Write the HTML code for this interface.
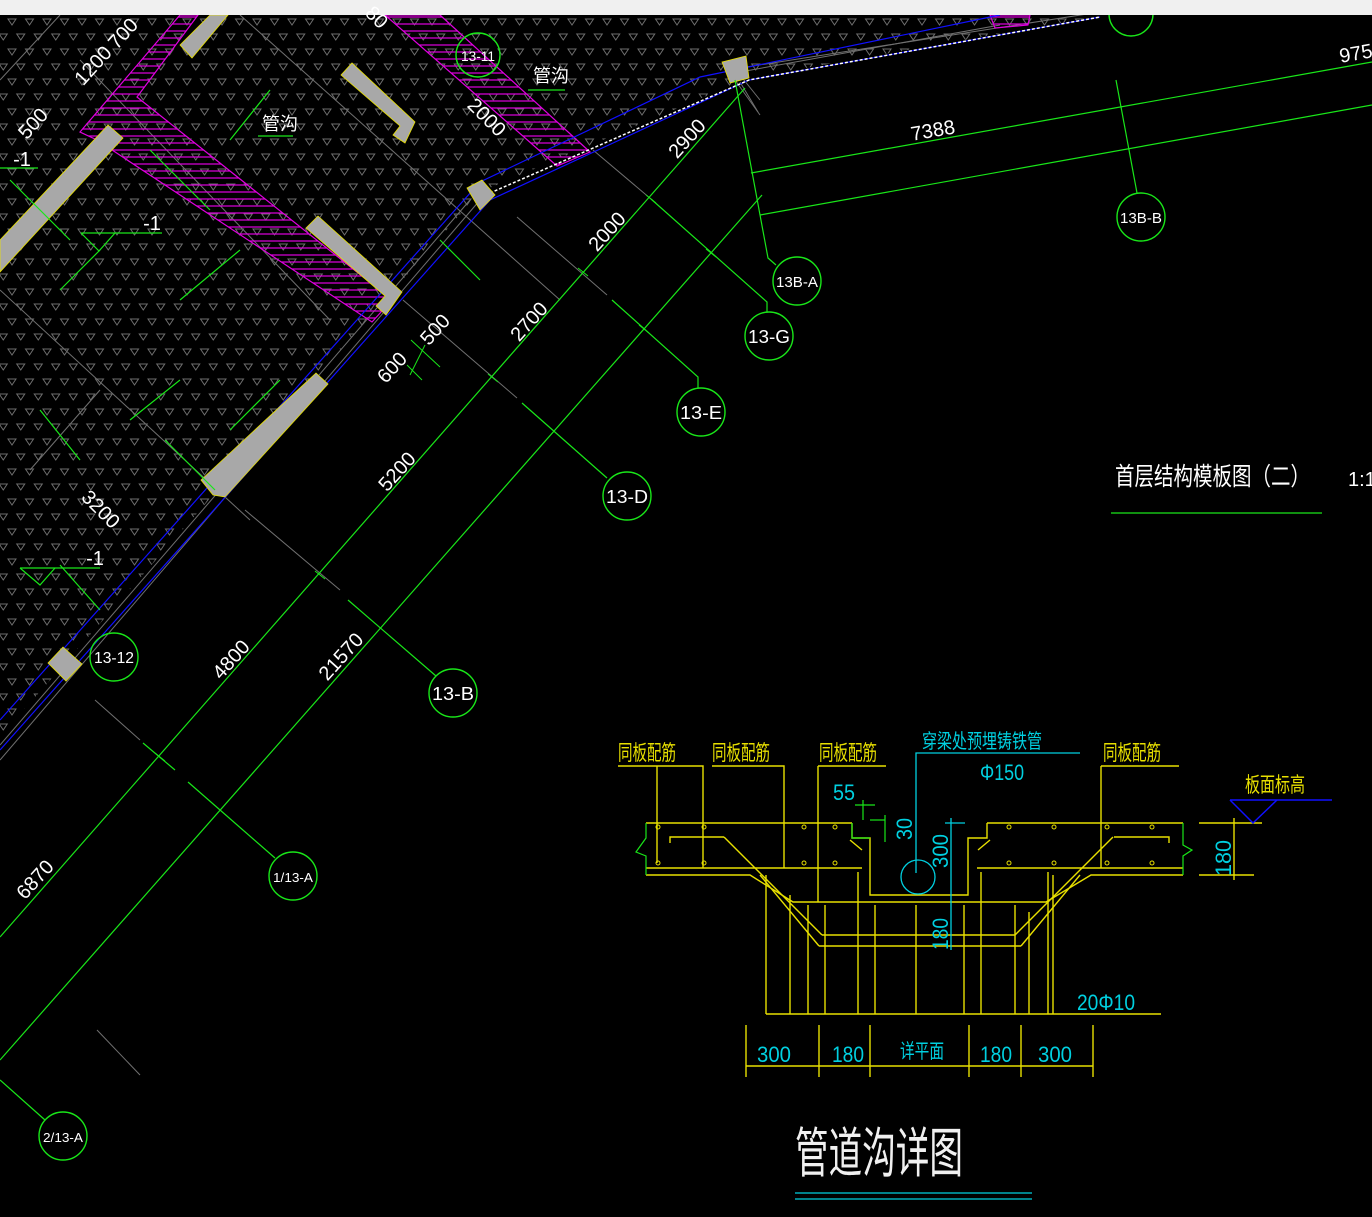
<!DOCTYPE html>
<html><head><meta charset="utf-8"><style>
html,body{margin:0;padding:0;background:#000;}
svg{display:block}
text{font-family:"Liberation Sans","Noto Sans CJK SC",sans-serif;}
</style></head><body>
<svg width="1372" height="1217" viewBox="0 0 1372 1217" xmlns="http://www.w3.org/2000/svg">
<defs>
<pattern id="tri" x="0" y="15" width="17.5" height="30" patternUnits="userSpaceOnUse">
<path d="M8,4 L16,4 L12,10 Z M-0.75,19 L7.25,19 L3.25,25 Z M16.75,19 L24.75,19 L20.75,25 Z" fill="none" stroke="#6e6e6e" stroke-width="1"/>
</pattern>
<pattern id="hat" width="10" height="7" patternUnits="userSpaceOnUse">
<line x1="0" y1="3" x2="10" y2="3" stroke="#e000e0" stroke-width="1.2"/>
</pattern>
</defs>
<rect width="1372" height="1217" fill="#000"/>
<polygon points="0,15 1105,15 749,78 480,192 0,737" fill="url(#tri)"/>
<g stroke="#707070" stroke-width="1" fill="none">
<line x1="0" y1="760" x2="480" y2="200"/>
<line x1="0" y1="745" x2="470" y2="200"/>
<line x1="60" y1="15" x2="0" y2="80"/>
<line x1="740" y1="68" x2="1100" y2="12"/>
<line x1="740" y1="72" x2="1000" y2="25"/>
<line x1="80" y1="60" x2="330" y2="320"/>
<line x1="240" y1="15" x2="560" y2="300"/>
<line x1="0" y1="290" x2="250" y2="520"/>
<line x1="100" y1="390" x2="30" y2="470"/>
<line x1="593" y1="150" x2="651" y2="199"/>
<line x1="517" y1="217" x2="607" y2="295"/>
<line x1="403" y1="300" x2="517" y2="398"/>
<line x1="245" y1="510" x2="340" y2="590"/>
<line x1="97" y1="1030" x2="140" y2="1075"/>
<line x1="95" y1="700" x2="140" y2="740"/>
<line x1="740" y1="75" x2="760" y2="100"/>
<line x1="735" y1="80" x2="760" y2="115"/>
<line x1="740" y1="82" x2="758" y2="112"/>
</g>
<g stroke="#e000e0" stroke-width="1.2">
<polygon points="180,15 198,15 137,97 392,300 372,322 97,140 80,132" fill="url(#hat)"/>
<polygon points="385,15 440,15 590,152 557,166" fill="url(#hat)"/>
<polygon points="990,15 1030,15 1028,25 995,28" fill="url(#hat)"/>
</g>
<g stroke="#1010ff" stroke-width="1.2" fill="none">
<polyline points="0,720 480,182 700,77 1000,15"/>
<polyline points="0,750 490,200 749,80 1100,17"/>
</g>
<polyline points="490,193 749,80 1100,17" stroke="#fff" stroke-width="1.5" stroke-dasharray="3,2" fill="none"/>
<g fill="#a8a8a8" stroke="#e8e000" stroke-width="0.8">
<polygon points="180,45 210,15 228,15 192,58"/>
<polygon points="0,240 108,125 123,138 0,272"/>
<polygon points="341,75 352,63 415,122 405,143 393,135 400,126"/>
<polygon points="306,228 318,216 402,292 386,315 376,306 385,296"/>
<polygon points="201,480 316,373 328,384 225,497 213,495"/>
<polygon points="467,188 482,180 495,195 480,210"/>
<polygon points="722,62 746,56 749,78 730,83"/>
<polygon points="48,663 63,647 82,664 66,681"/>
</g>
<g stroke="#19e619" stroke-width="1.2" fill="none">
<line x1="0" y1="937" x2="745" y2="88"/>
<line x1="0" y1="1060" x2="762" y2="195"/>
<line x1="751" y1="173" x2="1372" y2="62"/>
<line x1="760" y1="215" x2="1372" y2="105"/>
<polyline points="735,80 768,258 776,265"/>
<line x1="1116" y1="80" x2="1137" y2="193"/>
<line x1="143" y1="743" x2="175" y2="770"/>
<line x1="188" y1="782" x2="275" y2="858"/>
<line x1="0" y1="1080" x2="45" y2="1120"/>
<line x1="348" y1="600" x2="436" y2="676"/>
<polyline points="651,199 767,302 767,312"/>
<polyline points="612,300 698,377 698,388"/>
<line x1="522" y1="403" x2="607" y2="478"/>
<g stroke-width="1">
<line x1="646" y1="195" x2="656" y2="203"/><line x1="578" y1="268" x2="588" y2="276"/>
<line x1="488" y1="374" x2="498" y2="382"/><line x1="315" y1="571" x2="325" y2="579"/>
<line x1="155" y1="753" x2="165" y2="761"/><line x1="706" y1="249" x2="716" y2="257"/>
<line x1="639" y1="325" x2="649" y2="333"/>
<line x1="411" y1="340" x2="440" y2="367"/><line x1="407" y1="365" x2="422" y2="380"/>
<line x1="425" y1="345" x2="410" y2="375"/>
</g>
<line x1="60" y1="565" x2="100" y2="610"/>
<line x1="0" y1="168" x2="38" y2="168"/>
<line x1="81" y1="233" x2="162" y2="233"/>
<polyline points="81,233 99,251 115,233"/>
<line x1="20" y1="568" x2="100" y2="568"/>
<polyline points="20,568 40,585 55,568"/>
<line x1="258" y1="136" x2="293" y2="136"/>
<line x1="528" y1="90" x2="565" y2="90"/>
<line x1="1111" y1="513" x2="1322" y2="513"/>
<line x1="10" y1="180" x2="70" y2="240"/>
<line x1="150" y1="150" x2="210" y2="210"/>
<line x1="270" y1="90" x2="230" y2="140"/>
<line x1="60" y1="290" x2="100" y2="250"/>
<line x1="180" y1="300" x2="240" y2="250"/>
<line x1="130" y1="420" x2="180" y2="380"/>
<line x1="280" y1="380" x2="230" y2="430"/>
<line x1="40" y1="410" x2="80" y2="460"/>
<line x1="165" y1="440" x2="215" y2="490"/>
<line x1="440" y1="240" x2="480" y2="280"/>
</g>
<g stroke="#19e619" stroke-width="1.4" fill="none">
<circle cx="114" cy="657" r="24"/>
<circle cx="453" cy="693" r="24"/>
<circle cx="293" cy="876" r="24"/>
<circle cx="63" cy="1136" r="24"/>
<circle cx="627" cy="496" r="24"/>
<circle cx="701" cy="412" r="24"/>
<circle cx="769" cy="336" r="24"/>
<circle cx="797" cy="281" r="24"/>
<circle cx="1141" cy="217" r="24"/>
<circle cx="478" cy="55" r="22"/>
<circle cx="1131" cy="14" r="22"/>
</g>
<rect x="0" y="0" width="1372" height="15" fill="#f0f0f0"/>
<g fill="#fff" font-size="16" text-anchor="middle">
<text x="114" y="663" textLength="40" lengthAdjust="spacingAndGlyphs">13-12</text>
<text x="453" y="700" font-size="18" textLength="42" lengthAdjust="spacingAndGlyphs">13-B</text>
<text x="293" y="882" font-size="13" textLength="40" lengthAdjust="spacingAndGlyphs">1/13-A</text>
<text x="63" y="1142" font-size="13" textLength="40" lengthAdjust="spacingAndGlyphs">2/13-A</text>
<text x="627" y="503" font-size="18" textLength="42" lengthAdjust="spacingAndGlyphs">13-D</text>
<text x="701" y="419" font-size="18" textLength="42" lengthAdjust="spacingAndGlyphs">13-E</text>
<text x="769" y="343" font-size="18" textLength="42" lengthAdjust="spacingAndGlyphs">13-G</text>
<text x="797" y="287" font-size="15" textLength="42" lengthAdjust="spacingAndGlyphs">13B-A</text>
<text x="1141" y="223" font-size="15" textLength="42" lengthAdjust="spacingAndGlyphs">13B-B</text>
<text x="478" y="61" font-size="14" textLength="34" lengthAdjust="spacingAndGlyphs">13-11</text>
</g>
<g fill="#fff" font-size="20" text-anchor="middle">
<text transform="translate(692,143) rotate(-48)">2900</text>
<text transform="translate(612,236) rotate(-48)">2000</text>
<text transform="translate(534,326) rotate(-48)">2700</text>
<text transform="translate(402,476) rotate(-48)">5200</text>
<text transform="translate(236,664) rotate(-48)">4800</text>
<text transform="translate(40,884) rotate(-48)">6870</text>
<text transform="translate(346,661) rotate(-48)">21570</text>
<text transform="translate(440,334) rotate(-48)">500</text>
<text transform="translate(397,372) rotate(-48)">600</text>
<text transform="translate(38,128) rotate(-48)">500</text>
<text transform="translate(98,70) rotate(-48)">1200</text>
<text transform="translate(128,38) rotate(-48)">700</text>
<text transform="translate(96,514) rotate(45)">3200</text>
<text transform="translate(482,122) rotate(45)">2000</text>
<text transform="translate(372,22) rotate(45)">80</text>
<text transform="translate(934,137) rotate(-10)">7388</text>
<text transform="translate(1357,60) rotate(-10)">975</text>
<text x="22" y="166">-1</text>
<text x="152" y="230">-1</text>
<text x="95" y="565">-1</text>
<text x="280" y="130" font-size="18">管沟</text>
<text x="551" y="82" font-size="18">管沟</text>
</g>
<text x="1115" y="485" fill="#fff" font-size="25" textLength="195" lengthAdjust="spacingAndGlyphs">首层结构模板图（二）</text>
<text x="1348" y="486" fill="#fff" font-size="20">1:1</text>
<g stroke="#e8e000" stroke-width="1.4" fill="none">
<polyline points="646,823 852,823"/>
<polyline points="987,823 1183,823"/>
<polyline points="852,823 852,838 870,838 870,895 968,895 968,838 987,838 987,823"/>
<line x1="646" y1="868" x2="862" y2="868"/>
<line x1="977" y1="868" x2="1183" y2="868"/>
<polyline points="646,875 750,875 793,902 1046,902 1091,875 1183,875"/>
<line x1="766" y1="875" x2="766" y2="1014"/>
<line x1="1053" y1="875" x2="1053" y2="1014"/>
<line x1="766" y1="1014" x2="1161" y2="1014"/>
<line x1="822" y1="935" x2="1015" y2="935"/>
<line x1="819" y1="946" x2="1021" y2="946"/>
<line x1="724" y1="837" x2="822" y2="935"/>
<line x1="760" y1="875" x2="819" y2="946"/>
<line x1="1113" y1="837" x2="1015" y2="935"/>
<line x1="1080" y1="875" x2="1021" y2="946"/>
<polyline points="670,843 670,837 724,837"/>
<polyline points="1169,843 1169,837 1114,837"/>
<line x1="850" y1="840" x2="862" y2="850"/><line x1="990" y1="840" x2="978" y2="850"/>
<g>
<line x1="790" y1="895" x2="790" y2="1014"/><line x1="808" y1="905" x2="808" y2="1014"/>
<line x1="825" y1="905" x2="825" y2="1014"/><line x1="858" y1="872" x2="858" y2="1014"/>
<line x1="875" y1="905" x2="875" y2="1014"/><line x1="916" y1="905" x2="916" y2="1014"/>
<line x1="964" y1="905" x2="964" y2="1014"/><line x1="981" y1="872" x2="981" y2="1014"/>
<line x1="1015" y1="905" x2="1015" y2="1014"/><line x1="1029" y1="912" x2="1029" y2="1014"/>
<line x1="1048" y1="872" x2="1048" y2="1014"/>
</g>
<polyline points="618,766 703,766 703,868"/><line x1="657" y1="766" x2="657" y2="863"/>
<polyline points="712,766 784,766 784,868"/>
<polyline points="818,766 886,766"/><line x1="818" y1="766" x2="818" y2="902"/>
<polyline points="1101,766 1179,766"/><line x1="1101" y1="766" x2="1101" y2="868"/>
<line x1="1199" y1="823" x2="1262" y2="823"/><line x1="1199" y1="875" x2="1254" y2="875"/>
<line x1="1234" y1="818" x2="1234" y2="880"/>
<line x1="746" y1="1066" x2="1093" y2="1066"/>
<line x1="746" y1="1025" x2="746" y2="1077"/><line x1="819" y1="1025" x2="819" y2="1077"/>
<line x1="870" y1="1025" x2="870" y2="1077"/><line x1="969" y1="1025" x2="969" y2="1077"/>
<line x1="1021" y1="1025" x2="1021" y2="1077"/><line x1="1093" y1="1025" x2="1093" y2="1077"/>
</g>
<g fill="none" stroke="#e8e000" stroke-width="1">
<circle cx="658" cy="827" r="2"/><circle cx="704" cy="827" r="2"/><circle cx="804" cy="827" r="2"/><circle cx="835" cy="827" r="2"/>
<circle cx="1009" cy="827" r="2"/><circle cx="1054" cy="827" r="2"/><circle cx="1107" cy="827" r="2"/><circle cx="1152" cy="827" r="2"/>
<circle cx="658" cy="863" r="2"/><circle cx="704" cy="863" r="2"/><circle cx="804" cy="863" r="2"/><circle cx="835" cy="863" r="2"/>
<circle cx="1009" cy="863" r="2"/><circle cx="1054" cy="863" r="2"/><circle cx="1107" cy="863" r="2"/><circle cx="1152" cy="863" r="2"/>
</g>
<g stroke="#19e619" stroke-width="1.2" fill="none">
<polyline points="646,823 646,838 636,852 646,856 646,875"/>
<polyline points="1183,823 1183,845 1192,850 1183,856 1183,875"/>
<polyline points="852,823 852,838 870,838"/>
<line x1="855" y1="805" x2="875" y2="805"/><line x1="863" y1="800" x2="863" y2="820"/>
<line x1="870" y1="820" x2="885" y2="820"/><line x1="885" y1="815" x2="885" y2="842"/>
</g>
<g stroke="#00d0e0" stroke-width="1.3" fill="none">
<polyline points="916,873 916,753 1080,753"/>
<circle cx="918" cy="877" r="17"/>
<line x1="951" y1="818" x2="951" y2="950"/><line x1="945" y1="823" x2="965" y2="823"/>
</g>
<g stroke="#1010ff" stroke-width="1.5" fill="none">
<line x1="1230" y1="800" x2="1332" y2="800"/>
<polyline points="1230,800 1253,823 1277,800"/>
</g>
<g fill="#e8e000" font-size="21">
<text x="618" y="760" textLength="58" lengthAdjust="spacingAndGlyphs">同板配筋</text>
<text x="712" y="760" textLength="58" lengthAdjust="spacingAndGlyphs">同板配筋</text>
<text x="819" y="760" textLength="58" lengthAdjust="spacingAndGlyphs">同板配筋</text>
<text x="1103" y="760" textLength="58" lengthAdjust="spacingAndGlyphs">同板配筋</text>
<text x="1245" y="792" textLength="60" lengthAdjust="spacingAndGlyphs">板面标高</text>
</g>
<g fill="#00d0e0" font-size="22">
<text x="922" y="748" textLength="120" lengthAdjust="spacingAndGlyphs" font-size="20">穿梁处预埋铸铁管</text>
<text x="980" y="780" textLength="44" lengthAdjust="spacingAndGlyphs">Φ150</text>
<text x="833" y="800" textLength="22" lengthAdjust="spacingAndGlyphs">55</text>
<text transform="translate(912,840) rotate(-90)" textLength="22" lengthAdjust="spacingAndGlyphs">30</text>
<text transform="translate(948,868) rotate(-90)" textLength="34" lengthAdjust="spacingAndGlyphs">300</text>
<text transform="translate(948,950) rotate(-90)" textLength="32" lengthAdjust="spacingAndGlyphs">180</text>
<text transform="translate(1231,876) rotate(-90)" textLength="36" lengthAdjust="spacingAndGlyphs">180</text>
<text x="1077" y="1010" textLength="58" lengthAdjust="spacingAndGlyphs">20Φ10</text>
<text x="757" y="1062" textLength="34" lengthAdjust="spacingAndGlyphs">300</text>
<text x="832" y="1062" textLength="32" lengthAdjust="spacingAndGlyphs">180</text>
<text x="900" y="1058" textLength="44" lengthAdjust="spacingAndGlyphs" font-size="20">详平面</text>
<text x="980" y="1062" textLength="32" lengthAdjust="spacingAndGlyphs">180</text>
<text x="1038" y="1062" textLength="34" lengthAdjust="spacingAndGlyphs">300</text>
</g>
<text x="795" y="1172" fill="#f0f0f0" font-size="54" textLength="168" lengthAdjust="spacingAndGlyphs">管道沟详图</text>
<g stroke="#00d0e0" stroke-width="1.3">
<line x1="795" y1="1193" x2="1032" y2="1193"/><line x1="795" y1="1199" x2="1032" y2="1199"/>
</g>
</svg>
</body></html>
